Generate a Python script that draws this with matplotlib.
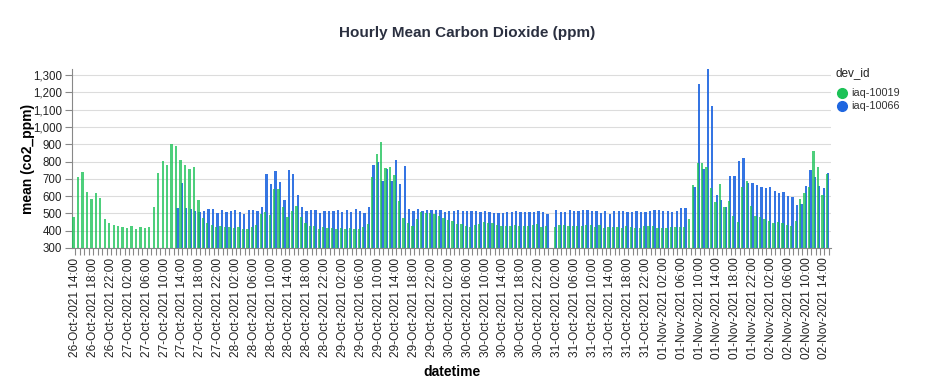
import numpy as np
import pandas as pd
import matplotlib
matplotlib.use("Agg")
import matplotlib.pyplot as plt
import matplotlib.dates as mdates
from matplotlib.ticker import FuncFormatter, MultipleLocator

plt.rcParams['font.family'] = ['Liberation Sans', 'DejaVu Sans']

# ---------------- data ----------------
start = "2021-10-26 14:00"
n_hours = 170
datetimes = pd.date_range(start, periods=n_hours, freq="h")

co2_10019 = [
    480, 711, 740, 624, 586, 618, 590, 470, 445, 435,
    427, 424, 416, 425, 408, 424, 418, 422, 537, 732,
    802, 781, 904, 889, 808, 781, 756, 767, 575, 476,
    443, 433, 422, 427, 422, 422, 416, 422, 412, 412,
    422, 435, 495, 508, 489, 644, 640, 537, 478, 514,
    543, 480, 445, 427, 425, 412, 420, 416, 416, 412,
    414, 412, 414, 412, 412, 420, 437, 711, 842, 912,
    765, 767, 721, 570, 472, 443, 429, 466, 510, 503,
    501, 499, 485, 474, 464, 456, 439, 437, 425, 422,
    431, 437, 449, 443, 445, 433, 425, 425, 425, 435,
    427, 425, 425, 435, 437, 424, 427, None, 422, 431,
    431, 425, 425, 425, 427, 431, 435, 422, 431, 416,
    420, 422, 424, 416, 425, 420, 418, 418, 427, 427,
    425, 416, 418, 418, 422, 420, 420, 424, 470, 665,
    794, 790, 767, 647, 566, 669, 539, 570, 485, 451,
    651, 688, 545, 485, 478, 468, 458, 447, 449, 443,
    431, 427, 456, 584, 617, 655, 858, 771, 605, 729,
]

co2_10066 = [None] * 23 + [
    532, 678, 530, 525, 516, 508, 516, 527, 524, 505,
    522, 510, 512, 518, 507, 499, 518, 520, 514, 535,
    725, 671, 748, 684, 578, 750, 727, 605, 537, 512,
    518, 518, 503, 516, 516, 512, 518, 507, 518, 508,
    526, 514, 503, 535, 779, 800, 690, 756, 686, 808,
    671, 773, 524, 512, 524, 512, 520, 520, 520, 518,
    508, 516, 516, 518, 512, 512, 512, 512, 510, 512,
    510, 505, 505, 503, 507, 507, 512, 508, 508, 508,
    510, 512, 510, 499, None, 518, 507, 507, 518, 514,
    514, 518, 518, 514, 512, 505, 512, 495, 512, 512,
    512, 507, 507, 512, 510, 510, 512, 518, 520, 512,
    514, 510, 514, 534, 532, None, 653, 1246, 757, 1335,
    1120, 605, 580, 539, 717, 717, 804, 819, 675, 675,
    665, 655, 647, 651, 630, 620, 624, 599, 597, 551,
    553, 661, 752, 713, 659, 646, 732,
]

series_names = ["iaq-10019", "iaq-10066"]
series_colors = ["#1cc257", "#1f66e0"]

# ---------------- figure ----------------
W, H = 933, 382
fig = plt.figure(figsize=(W / 100, H / 100), dpi=100)
ax = fig.add_axes([72 / W, 1 - 248 / H, (831 - 72) / W, (248 - 69) / H])

x = mdates.date2num(datetimes.to_pydatetime())
hour = 1 / 24.0
bw = 0.52 * hour

g = np.array([np.nan if v is None else v for v in co2_10019], dtype=float)
b = np.array([np.nan if v is None else v for v in co2_10066], dtype=float)
base = 300

mb = ~np.isnan(b)
ax.bar(x[mb] - 0.15 * hour, b[mb] - base, bottom=base, width=bw,
       color=series_colors[1], alpha=0.9, linewidth=0, zorder=2)
mg = ~np.isnan(g)
ax.bar(x[mg] - 0.44 * hour, g[mg] - base, bottom=base, width=bw,
       color=series_colors[0], alpha=0.78, linewidth=0, zorder=3)

x0 = x[0]
ax.set_xlim(x0 - 0.785 * hour, x0 + 169.47 * hour)
ax.set_ylim(300, 1335)

ax.yaxis.set_major_locator(MultipleLocator(100))
ax.yaxis.set_major_formatter(FuncFormatter(lambda v, p: f"{int(v):,}"))
ax.grid(axis='y', color='#dcdcdc', linewidth=0.8, zorder=0)
ax.set_axisbelow(True)

ax.xaxis.set_major_locator(mdates.HourLocator(byhour=[2, 6, 10, 14, 18, 22]))
ax.xaxis.set_minor_locator(mdates.HourLocator())
ax.xaxis.set_major_formatter(mdates.DateFormatter('%d-%b-%Y %H:%M'))
ax.tick_params(axis='x', which='major', labelrotation=90, labelsize=8.6,
               length=5, color='#888888', width=0.8, pad=2, labelcolor='#222222')
ax.tick_params(axis='x', which='minor', length=5, color='#888888', width=0.8)
ax.tick_params(axis='y', labelsize=8.3, length=5, color='#888888', width=0.8,
               pad=2, labelcolor='#222222')

for s in ['top', 'right']:
    ax.spines[s].set_visible(False)
for s in ['left', 'bottom']:
    ax.spines[s].set_color('#888888')
    ax.spines[s].set_linewidth(0.8)

ax.set_ylabel('mean (co2_ppm)', fontsize=10, fontweight='bold')
ax.yaxis.set_label_coords((35 - 72) / (831 - 72), 0.5)
ax.set_xlabel('datetime', fontsize=10, fontweight='bold', labelpad=4)

fig.text(467 / W, 1 - 33 / H, 'Hourly Mean Carbon Dioxide (ppm)', ha='center',
         va='center', fontsize=11, fontweight='bold', color='#2b3040')

# legend
fig.text(836 / W, 1 - 73 / H, 'dev_id', ha='left', va='center', fontsize=8.5,
         color='#222222')
for k, (name, col) in enumerate(zip(series_names, series_colors)):
    yy = 1 - (93 + 13 * k) / H
    fig.lines.append(plt.Line2D([842 / W], [yy], marker='o', markersize=7,
                                color=col, linestyle='none',
                                transform=fig.transFigure))
    fig.text(851 / W, yy, name, ha='left', va='center', fontsize=7.8,
             color='#333333')

fig.savefig('out.png', dpi=100)
